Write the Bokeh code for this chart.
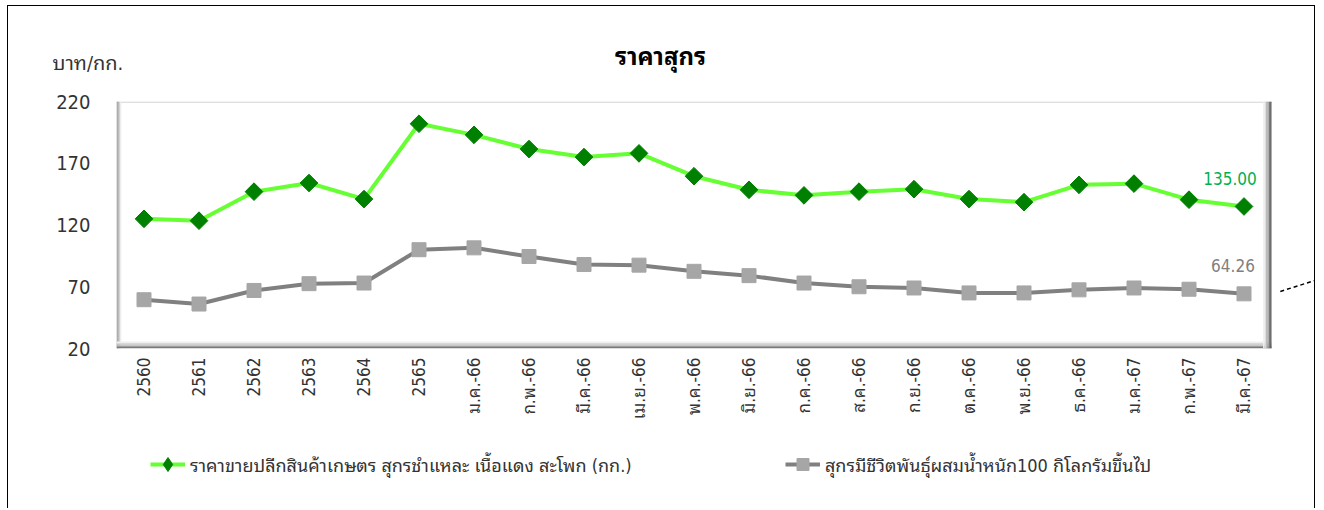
import math
from bokeh.plotting import figure
from bokeh.models import (ColumnDataSource, FixedTicker, Legend, LegendItem, Label, Range1d)
from bokeh.embed import file_html
from bokeh.resources import INLINE

categories = ["2560", "2561", "2562", "2563", "2564", "2565",
              "ม.ค.-66", "ก.พ.-66", "มี.ค.-66", "เม.ย.-66", "พ.ค.-66", "มิ.ย.-66",
              "ก.ค.-66", "ส.ค.-66", "ก.ย.-66", "ต.ค.-66", "พ.ย.-66", "ธ.ค.-66",
              "ม.ค.-67", "ก.พ.-67", "มี.ค.-67"]
retail_pork = [125, 123.5, 147, 154, 141, 202, 193, 181.5, 175, 178, 159.5, 148.5,
               144, 147, 149, 141, 138.5, 152.5, 153.5, 140.5, 135.00]
live_pig = [59.5, 56, 67, 72.5, 73, 100, 101.5, 94.5, 88, 87.5, 82.5, 79,
            73, 70, 69, 65, 65, 67.5, 69, 68, 64.26]
y_ticks = [20, 70, 120, 170, 220]
title_text = "ราคาสุกร"
unit_text = "บาท/กก."
legend_retail = "ราคาขายปลีกสินค้าเกษตร สุกรชำแหละ เนื้อแดง สะโพก (กก.)"
legend_live = "สุกรมีชีวิตพันธุ์ผสมน้ำหนัก100 กิโลกรัมขึ้นไป"

FONT = "Tahoma, DejaVu Sans Condensed, Noto Sans Thai Looped, Noto Sans Thai, DejaVu Sans, sans-serif"
TXT = "#333333"
GREEN_LINE, GREEN_MARK = "#66ff33", "#008000"
GRAY_LINE, GRAY_MARK = "#808080", "#a6a6a6"
BORDER = "1px solid #000"

W = 1308
HEAD_H = 84
MAIN_H = 350
FOOT_H = 69
LEFT = 108
TOP = 12
FRAME_H = 247
PX_X = 55.0
Y0, Y1 = 20, 220
n = len(categories)
x_start = -0.5
x_end = x_start + (W - LEFT) / PX_X
dx = 1.0 / PX_X
dy = (Y1 - Y0) / FRAME_H


def blank(height):
    f = figure(width=W, height=height, output_backend="svg", toolbar_location=None,
               x_range=Range1d(0, W), y_range=Range1d(0, height),
               x_axis_type=None, y_axis_type=None, min_border=0)
    f.outline_line_color = None
    f.grid.visible = False
    f.background_fill_color = "white"
    f.border_fill_color = "white"
    return f


# ---------------- header (title + unit) ----------------
head = blank(HEAD_H)
head.styles = {"margin-left": "7px", "margin-top": "5px",
               "border-left": BORDER, "border-top": BORDER, "border-right": BORDER}
head.add_layout(Label(x=652, y=HEAD_H - 50, text=title_text, text_align="center",
                      text_baseline="middle", text_font=FONT, text_font_size="24px",
                      text_font_style="bold", text_color="#000000"))
head.add_layout(Label(x=44, y=HEAD_H - 56, text=unit_text, text_align="left",
                      text_baseline="middle", text_font=FONT, text_font_size="20px",
                      text_color=TXT))

# ---------------- main chart ----------------
xs = list(range(n))
src = ColumnDataSource(dict(x=xs, retail=retail_pork, live=live_pig))

p = figure(width=W, height=MAIN_H, output_backend="svg", toolbar_location=None,
           x_range=Range1d(x_start, x_end), y_range=Range1d(Y0, Y1),
           min_border_left=LEFT, min_border_right=0, min_border_top=TOP,
           min_border_bottom=MAIN_H - TOP - FRAME_H)
p.styles = {"margin-left": "7px", "border-left": BORDER, "border-right": BORDER}
p.outline_line_color = None
p.background_fill_color = "white"
p.border_fill_color = "white"
p.xgrid.visible = False
p.ygrid.visible = False

# plot-area box with bevel edges
bx0, bx1 = -0.5, n - 0.5
p.quad(left=bx0, right=bx1, bottom=Y0, top=Y1, fill_color="white", line_color=None)
bands = dict(left=[], right=[], bottom=[], top=[], color=[])


def band(l, r, b, t, c):
    bands["left"].append(l); bands["right"].append(r)
    bands["bottom"].append(b); bands["top"].append(t); bands["color"].append(c)


band(bx0, bx1, Y1 - 1.2 * dy, Y1, "#d4d4d4")
for i, c in enumerate(["#8c8c8c", "#b0b0b0", "#d2d2d2", "#ececec"]):
    band(bx0 + i * 1.2 * dx, bx0 + (i + 1) * 1.2 * dx, Y0, Y1, c)
for i, c in enumerate(["#7a7a7a", "#9c9c9c", "#bdbdbd", "#d9d9d9", "#efefef"]):
    band(bx0, bx1, Y0 + i * 1.4 * dy, Y0 + (i + 1) * 1.4 * dy, c)
for i, c in enumerate(["#5e5e5e", "#7c7c7c", "#9c9c9c", "#bcbcbc", "#dadada", "#f0f0f0"]):
    band(bx1 - (i + 1) * 1.4 * dx, bx1 - i * 1.4 * dx, Y0, Y1, c)
p.quad(left="left", right="right", bottom="bottom", top="top", color="color",
       source=ColumnDataSource(bands), line_color=None)

# y axis
p.yaxis.ticker = FixedTicker(ticks=y_ticks)
p.yaxis.axis_line_color = None
p.yaxis.major_tick_line_color = None
p.yaxis.major_tick_out = 0
p.yaxis.major_tick_in = 0
p.yaxis.minor_tick_line_color = None
p.yaxis.major_label_standoff = 26
p.yaxis.major_label_text_font = FONT
p.yaxis.major_label_text_font_size = "20px"
p.yaxis.major_label_text_color = TXT

# x axis
p.xaxis.ticker = FixedTicker(ticks=xs)
p.xaxis.major_label_overrides = {i: c for i, c in enumerate(categories)}
p.xaxis.major_label_orientation = math.pi / 2
p.xaxis.axis_line_color = None
p.xaxis.major_tick_line_color = None
p.xaxis.major_tick_out = 0
p.xaxis.major_tick_in = 0
p.xaxis.minor_tick_line_color = None
p.xaxis.major_label_standoff = 9
p.xaxis.major_label_text_font = FONT
p.xaxis.major_label_text_font_size = "17px"
p.xaxis.major_label_text_color = TXT

# series
p.line("x", "retail", source=src, line_color=GREEN_LINE, line_width=4)
p.scatter("x", "retail", source=src, marker="square", angle=math.pi / 4, size=12.5,
          fill_color=GREEN_MARK, line_color=GREEN_MARK)
p.line("x", "live", source=src, line_color=GRAY_LINE, line_width=4)
p.scatter("x", "live", source=src, marker="square", size=14,
          fill_color=GRAY_MARK, line_color=GRAY_MARK)

# data labels on last points
last = n - 1
p.add_layout(Label(x=last, y=retail_pork[-1], text=f"{retail_pork[-1]:.2f}", x_offset=-14, y_offset=28,
                   text_align="center", text_baseline="middle", text_font=FONT,
                   text_font_size="17px", text_color="#00b050"))
p.add_layout(Label(x=last, y=live_pig[-1], text=f"{live_pig[-1]:.2f}", x_offset=-11, y_offset=28,
                   text_align="center", text_baseline="middle", text_font=FONT,
                   text_font_size="17px", text_color="#7f7f7f"))

# dashed leader line leaving the chart on the right
p.line(x=[20.66, x_end], y=[66.2, 75.5], line_color="#000000", line_width=1.5, line_dash="4 3")

# ---------------- footer (legend) ----------------
foot = blank(FOOT_H)
foot.styles = {"margin-left": "7px", "border-left": BORDER, "border-right": BORDER}
# legend-only renderers: one point placed outside the visible footer range
offscreen = ColumnDataSource(dict(x=[-1000], y=[-1000]))
lg1 = foot.line("x", "y", source=offscreen, line_color=GREEN_LINE, line_width=4)
mg1 = foot.scatter("x", "y", source=offscreen, marker="diamond",
                   fill_color=GREEN_MARK, line_color=GREEN_MARK)
lg2 = foot.line("x", "y", source=offscreen, line_color=GRAY_LINE, line_width=4)
mg2 = foot.scatter("x", "y", source=offscreen, marker="square",
                   fill_color=GRAY_MARK, line_color=GRAY_MARK)

LEG_MID = 44   # legend row centre, px above footer bottom
common = dict(orientation="horizontal", padding=0, margin=0, glyph_width=35,
              label_standoff=5, label_text_font=FONT,
              label_text_font_size="18px", label_text_color=TXT,
              border_line_color=None, background_fill_alpha=0)
foot.add_layout(Legend(items=[LegendItem(label=legend_retail, renderers=[lg1, mg1])],
                       location=(142, LEG_MID - 19), glyph_height=38, label_height=38,
                       **common), "center")
foot.add_layout(Legend(items=[LegendItem(label=legend_live, renderers=[lg2, mg2])],
                       location=(777, LEG_MID - 15), glyph_height=30, label_height=30,
                       **common), "center")

open("out.html", "w").write(file_html([head, p, foot], INLINE))
